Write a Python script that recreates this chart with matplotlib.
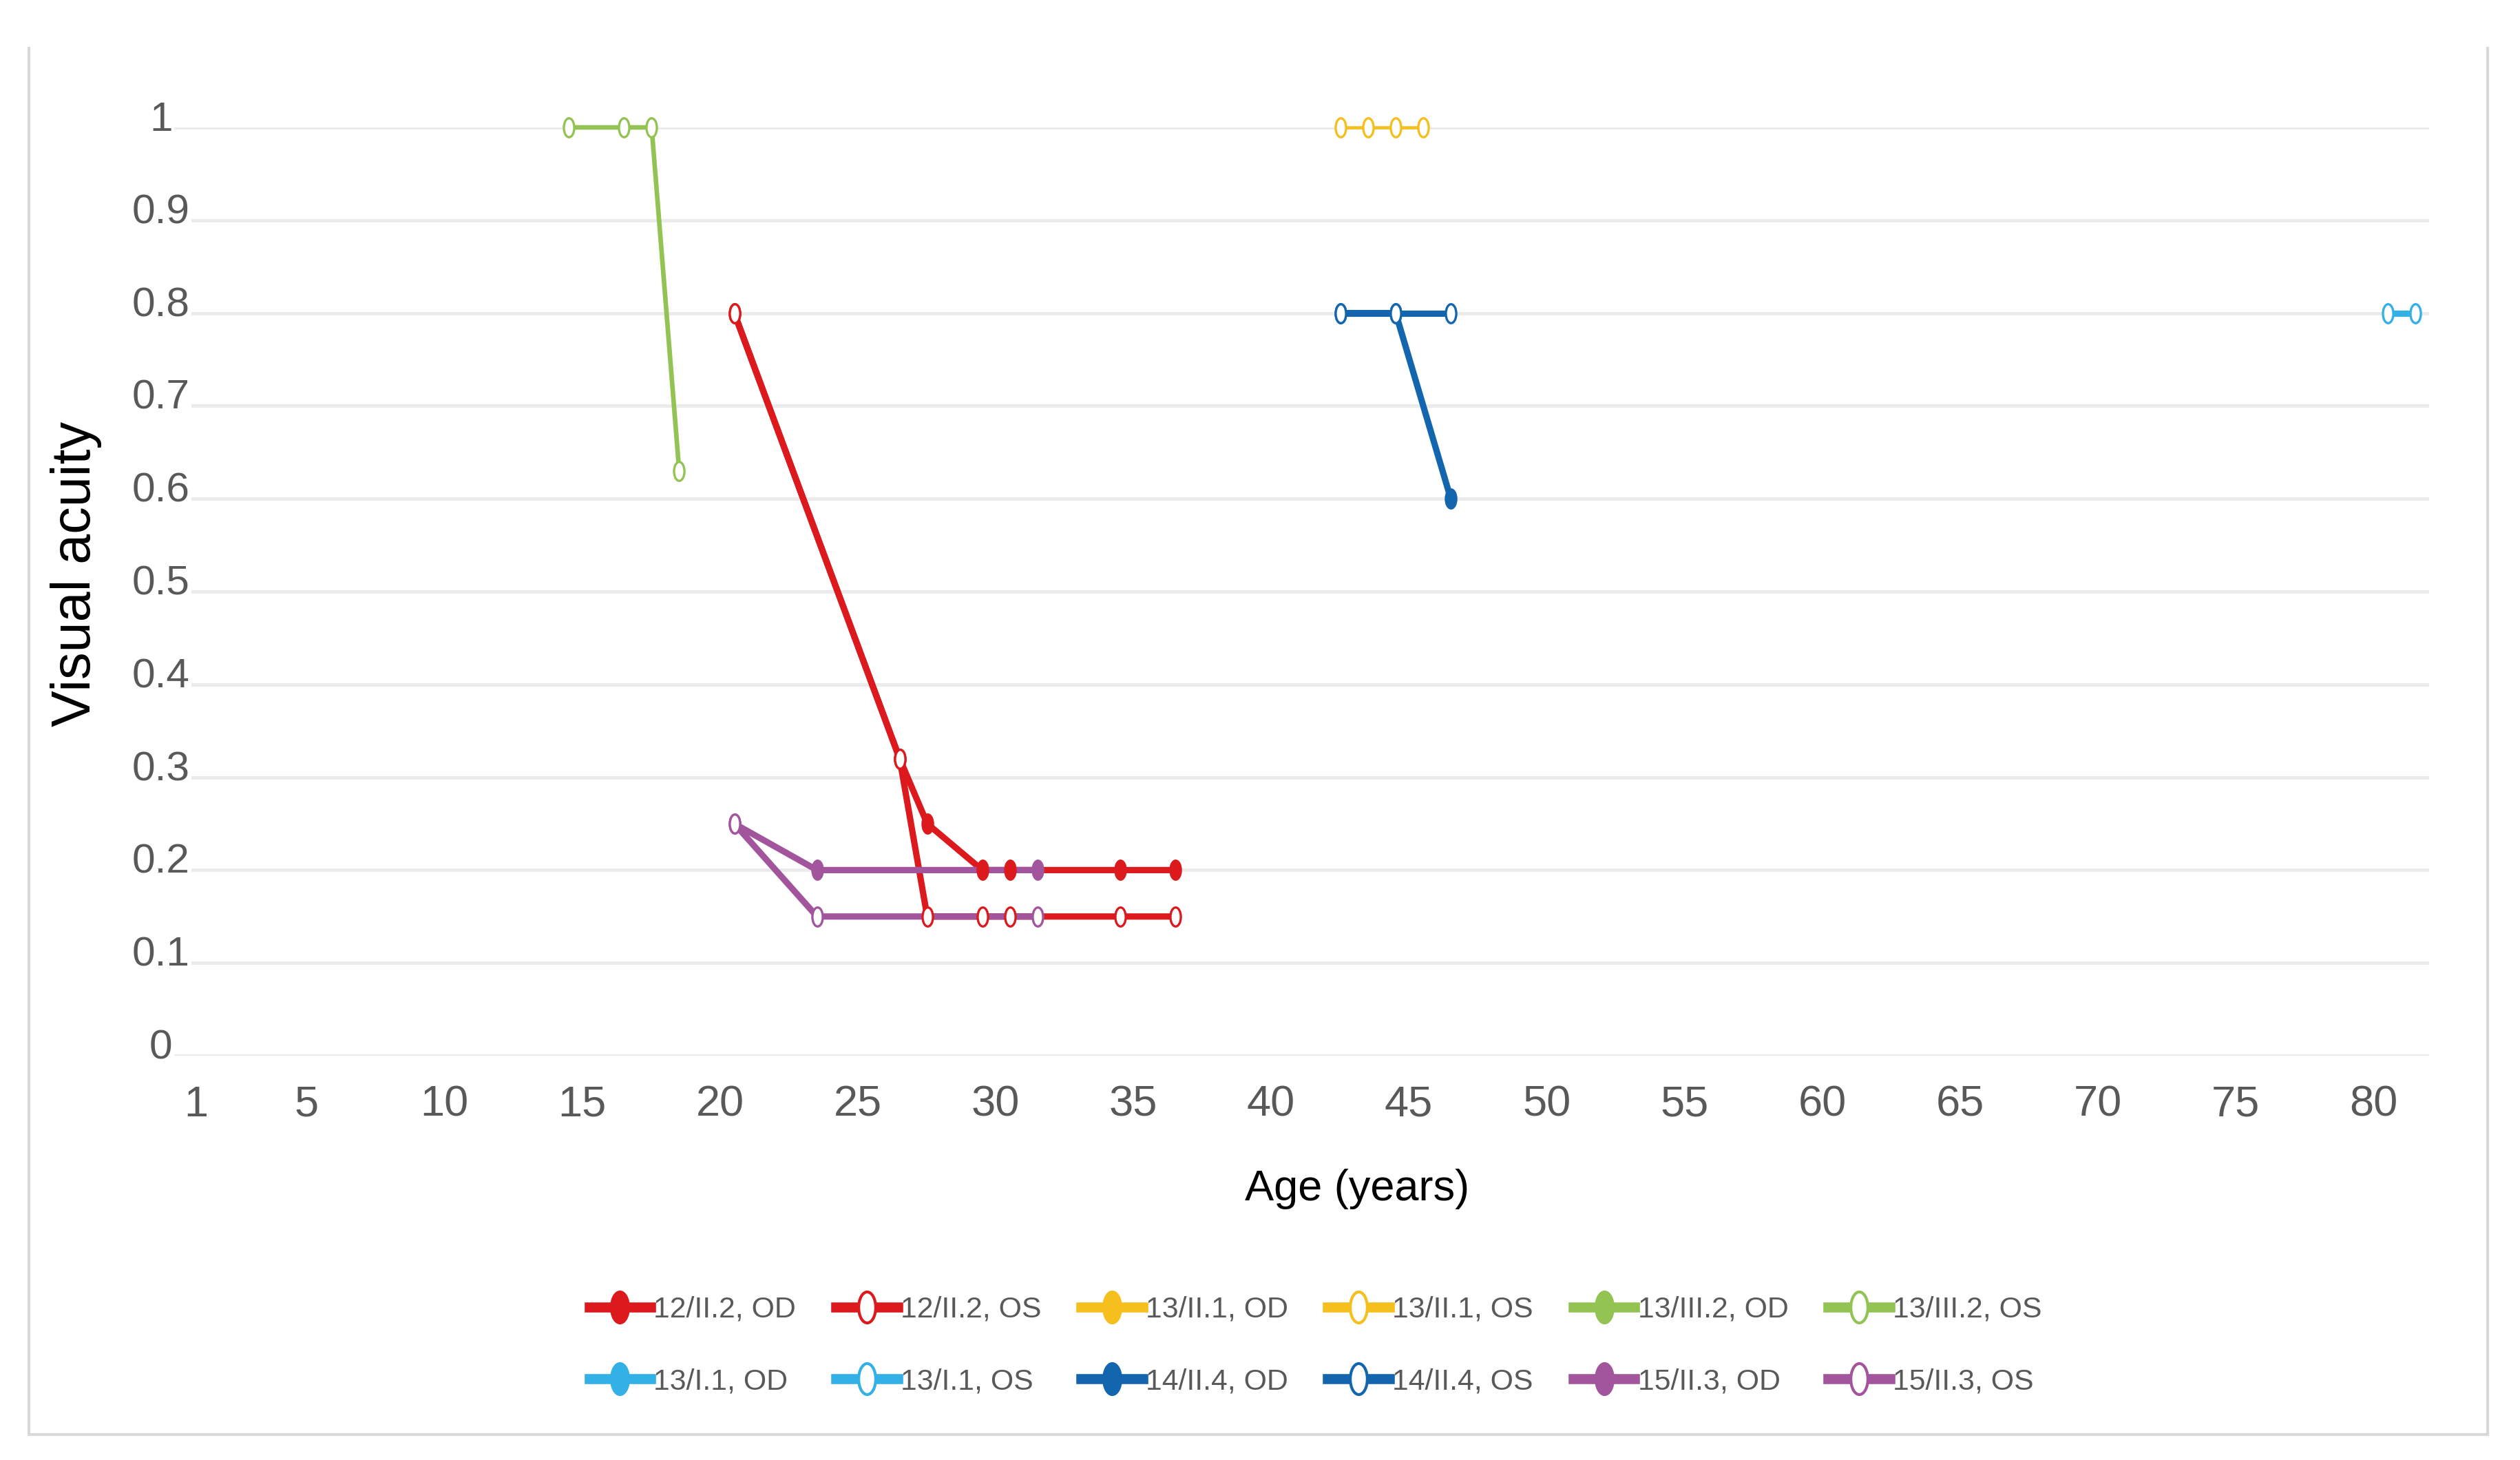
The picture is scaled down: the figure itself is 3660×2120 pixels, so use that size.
import matplotlib
matplotlib.use('Agg')
import matplotlib.pyplot as plt
from matplotlib import font_manager
from matplotlib.path import Path
from matplotlib.transforms import Affine2D, ScaledTranslation
from matplotlib.lines import Line2D

# data (age in years, visual acuity)
labels = ["12/II.2, OD", "12/II.2, OS", "13/II.1, OD", "13/II.1, OS",
          "13/III.2, OD", "13/III.2, OS", "13/I.1, OD", "13/I.1, OS",
          "14/II.4, OD", "14/II.4, OS", "15/II.3, OD", "15/II.3, OS"]

age_12_od = [21, 27, 28, 30, 31, 35, 37]
va_12_od = [0.8, 0.32, 0.25, 0.2, 0.2, 0.2, 0.2]
age_12_os = [21, 27, 28, 30, 31, 35, 37]
va_12_os = [0.8, 0.32, 0.15, 0.15, 0.15, 0.15, 0.15]
age_13ii_od, va_13ii_od = [], []
age_13ii_os = [43, 44, 45, 46]
va_13ii_os = [1, 1, 1, 1]
age_13iii_od, va_13iii_od = [], []
age_13iii_os = [15, 17, 18, 19]
va_13iii_os = [1, 1, 1, 0.63]
age_13i_od, va_13i_od = [], []
age_13i_os = [81, 82]
va_13i_os = [0.8, 0.8]
age_14_od = [43, 45, 47]
va_14_od = [0.8, 0.8, 0.6]
age_14_os = [43, 45, 47]
va_14_os = [0.8, 0.8, 0.8]
age_15_od = [21, 24, 32]
va_15_od = [0.25, 0.2, 0.2]
age_15_os = [21, 24, 32]
va_15_os = [0.25, 0.15, 0.15]

xticks = [1, 5, 10, 15, 20, 25, 30, 35, 40, 45, 50, 55, 60, 65, 70, 75, 80]
yticks = [0, 0.1, 0.2, 0.3, 0.4, 0.5, 0.6, 0.7, 0.8, 0.9, 1]
ytick_labels = ["0", "0.1", "0.2", "0.3", "0.4", "0.5", "0.6", "0.7", "0.8", "0.9", "1"]

series = [
    (age_12_od, va_12_od), (age_12_os, va_12_os),
    (age_13ii_od, va_13ii_od), (age_13ii_os, va_13ii_os),
    (age_13iii_od, va_13iii_od), (age_13iii_os, va_13iii_os),
    (age_13i_od, va_13i_od), (age_13i_os, va_13i_os),
    (age_14_od, va_14_od), (age_14_os, va_14_os),
    (age_15_od, va_15_od), (age_15_os, va_15_os),
]

red, yellow, green = '#DC1A1E', '#F5BF1E', '#92C353'
ltblue, blue, purple = '#33B0E6', '#1366AE', '#A2559C'
colors = [red, red, yellow, yellow, green, green, ltblue, ltblue, blue, blue, purple, purple]
widths = [2.2, 2.2, 1.1, 1.1, 1.6, 1.6, 2.2, 2.2, 2.2, 2.2, 2.2, 2.2]


def have(name):
    try:
        font_manager.findfont(name, fallback_to_default=False)
        return True
    except ValueError:
        return False


# the original uses a condensed face for the x axis and legend
if have('Liberation Sans Narrow'):
    narrow, k = 'Liberation Sans Narrow', 1.0
else:
    narrow, k = 'Liberation Sans', 0.82
regular = 'Liberation Sans' if have('Liberation Sans') else 'DejaVu Sans'
grey_txt = '#595959'

# tall ellipse marker (the picture is stretched vertically)
ellipse = Path.unit_circle().transformed(Affine2D().scale(0.55, 1.0))

fig = plt.figure(figsize=(12.2, 2120 / 300), dpi=300)
ax = fig.add_axes([246 / 3660, 1 - 1533 / 2120, (3528 - 246) / 3660, (1533 - 185) / 2120])

# lines first, markers on top (as in the original)
for i, (x, y) in enumerate(series):
    ax.plot(x, y, color=colors[i], lw=widths[i], solid_joinstyle='round', zorder=2, clip_on=False)
for i, (x, y) in enumerate(series):
    fill = colors[i] if i % 2 == 0 else 'white'
    ax.plot(x, y, linestyle='none', marker=ellipse, ms=6.6, mfc=fill, mec=colors[i],
            mew=0.8, zorder=3, clip_on=False)

ax.set_xlim(0.5, 82.5)
ax.set_ylim(0, 1)
ax.set_xticks(xticks)
ax.set_xticklabels([str(t) for t in xticks], family=narrow, fontsize=18.5 * k, color=grey_txt)
ax.set_yticks(yticks)
ax.set_yticklabels(ytick_labels, family=regular, fontsize=14.5, color=grey_txt)
ax.tick_params(axis='x', length=0, pad=10)
ax.tick_params(axis='y', length=0, pad=2.9)
for s in ax.spines.values():
    s.set_visible(False)
ax.grid(axis='y', color='#EBEBEB', lw=1.2)
ax.grid(axis='x', visible=False)
ax.set_axisbelow(True)

for lab in ax.get_yticklabels():
    lab.set_horizontalalignment('center')
    lab.set_bbox(dict(facecolor='white', edgecolor='none', pad=0.5))
    lab.set_transform(lab.get_transform() + ScaledTranslation(0, 17 / 300, fig.dpi_scale_trans))
for lab in ax.get_xticklabels():
    lab.set_transform(lab.get_transform() + ScaledTranslation(19 / 300, 0, fig.dpi_scale_trans))

ax.set_ylabel('Visual acuity', family=regular, fontsize=19, color='black')
ax.yaxis.set_label_coords(-0.030, 0.519)
ax.set_xlabel('Age (years)', family=narrow, fontsize=18.5 * k, color='black')
ax.xaxis.set_label_coords(0.5256, -0.122)

# legend filled row by row like the original
order = [0, 6, 1, 7, 2, 8, 3, 9, 4, 10, 5, 11]
handles = []
for i in order:
    fill = colors[i] if i % 2 == 0 else 'white'
    handles.append(Line2D([], [], color=colors[i], lw=3.5, marker=ellipse, ms=10.8,
                          mfc=fill, mec=colors[i], mew=1.0))
leg = fig.legend(handles, [labels[i] for i in order], loc='center',
                 bbox_to_anchor=(0.522, 0.0783), ncol=6, frameon=False,
                 prop=dict(family=narrow, size=12.5 * k), handlelength=2.1,
                 handletextpad=0.1, columnspacing=1.35, labelspacing=1.5)
for t in leg.get_texts():
    t.set_color(grey_txt)

# light grey chart border (left, right, bottom)
bc = '#D9D9D9'
W, H = 3660, 2120
fig.add_artist(Line2D([42 / W, 42 / W], [1 - 70 / H, 1 - 2083 / H], color=bc, lw=1.0))
fig.add_artist(Line2D([3613 / W, 3613 / W], [1 - 70 / H, 1 - 2083 / H], color=bc, lw=1.0))
fig.add_artist(Line2D([42 / W, 3613 / W], [1 - 2083 / H, 1 - 2083 / H], color=bc, lw=1.0))

fig.savefig('out.png', dpi=300, facecolor='white')
